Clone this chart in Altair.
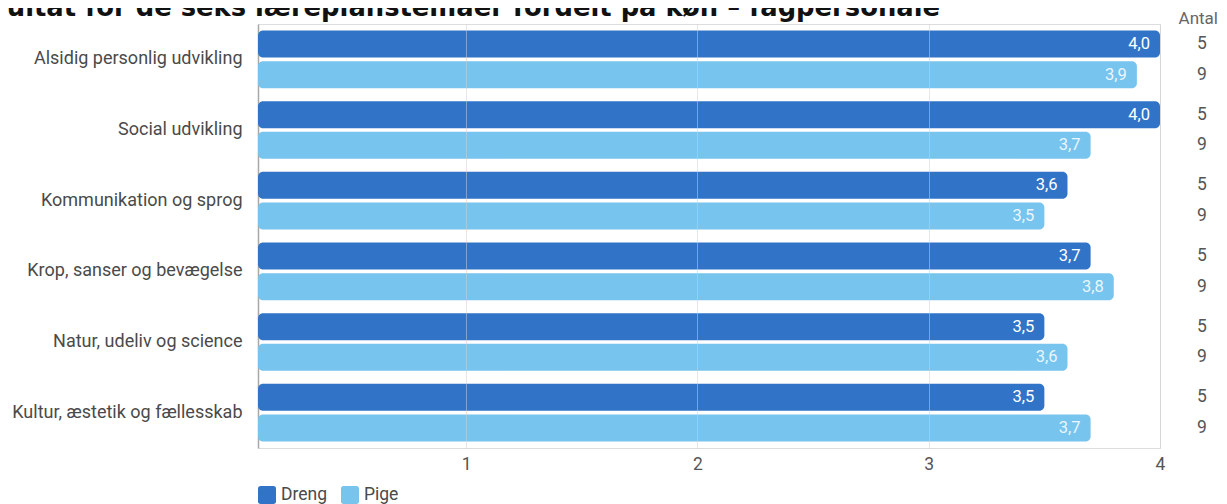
import altair as alt
import pandas as pd

# ---- data ----
title_text = ["Resultat for de seks læreplanstemaer fordelt på køn – fagpersonale"]
antal_header = ["Antal"]
categories = [
    "Alsidig personlig udvikling",
    "Social udvikling",
    "Kommunikation og sprog",
    "Krop, sanser og bevægelse",
    "Natur, udeliv og science",
    "Kultur, æstetik og fællesskab",
]
genders = ["Dreng", "Pige"]
dreng_values = [4.0, 4.0, 3.6, 3.7, 3.5, 3.5]
pige_values = [3.9, 3.7, 3.5, 3.8, 3.6, 3.7]
dreng_antal = [5, 5, 5, 5, 5, 5]
pige_antal = [9, 9, 9, 9, 9, 9]
x_ticks = [1, 2, 3, 4]

rows = []
for i, c in enumerate(categories):
    rows.append({"kategori": c, "kon": "Dreng", "vaerdi": dreng_values[i], "antal": dreng_antal[i]})
    rows.append({"kategori": c, "kon": "Pige", "vaerdi": pige_values[i], "antal": pige_antal[i]})
df = pd.DataFrame(rows)

DARK = "#3174c7"
LIGHT = "#77c4ee"
FONT = "Roboto"
FS = 17.5
W, H = 902, 424

rounded_square = ("M-0.7,-1 L0.7,-1 Q1,-1 1,-0.7 L1,0.7 Q1,1 0.7,1 L-0.7,1 "
                  "Q-1,1 -1,0.7 L-1,-0.7 Q-1,-1 -0.7,-1 Z")

base = alt.Chart(df).transform_calculate(
    label="replace(format(datum.vaerdi, '.1f'), '.', ',')"
).encode(
    y=alt.Y(
        "kategori:N",
        sort=categories,
        scale=alt.Scale(paddingInner=0.184, paddingOuter=0.092),
        axis=alt.Axis(
            title=None, ticks=False, labelFontSize=18, labelColor="#4a4a4a",
            labelPadding=16, labelFont=FONT, domainColor="#a8a8a8", domainWidth=1.5,
            labelLimit=400,
        ),
    ),
    yOffset=alt.YOffset("kon:N", sort=genders, scale=alt.Scale(paddingInner=0.12, paddingOuter=0)),
)

bars = base.mark_bar(cornerRadiusEnd=5).encode(
    x=alt.X(
        "vaerdi:Q",
        scale=alt.Scale(domain=[0.1, 4], zero=False, nice=False),
        axis=alt.Axis(
            values=x_ticks, title=None, grid=True, gridColor="#cfcfcf", gridOpacity=0.5,
            domain=False, ticks=False, labelFontSize=FS, labelColor="#555555",
            labelPadding=7, labelFont=FONT, zindex=1, format="d", labelFlush=False,
        ),
    ),
    x2=alt.datum(0.1),
    color=alt.Color(
        "kon:N",
        sort=genders,
        scale=alt.Scale(domain=genders, range=[DARK, LIGHT]),
        legend=alt.Legend(
            title=None, orient="none", legendX=0, legendY=462, direction="horizontal",
            symbolType=rounded_square, symbolSize=324, symbolStrokeWidth=0,
            labelFontSize=FS, labelColor="#4a4a4a", labelFont=FONT, labelOffset=5,
            columnPadding=13, padding=0,
        ),
    ),
)

value_labels = base.mark_text(align="right", dx=-10, fontSize=16.5, font=FONT, baseline="middle").encode(
    x=alt.X("vaerdi:Q"),
    text="label:N",
    color=alt.value("#ffffff"),
    opacity=alt.condition(alt.datum.kon == "Pige", alt.value(0.85), alt.value(1.0)),
)

antal_labels = base.mark_text(align="center", fontSize=FS, font=FONT, color="#555555", baseline="middle").encode(
    x=alt.value(944),
    text="antal:Q",
)

antal_title = alt.Chart(pd.DataFrame({"t": antal_header})).mark_text(
    align="right", baseline="middle", fontSize=17, font=FONT, color="#666666"
).encode(x=alt.value(960), y=alt.value(-5), text="t:N")

title = alt.Chart(pd.DataFrame({"t": title_text})).mark_text(
    align="right", baseline="alphabetic", fontSize=25.8, font="DejaVu Sans", fontWeight="bold", color="#111111"
).encode(x=alt.value(682), y=alt.value(-8), text="t:N")

chart = alt.layer(bars, value_labels, antal_labels, antal_title, title).properties(
    width=W, height=H,
    autosize=alt.AutoSizeParams(type="none"),
    padding={"left": 250, "top": 16, "right": 59, "bottom": 56},
).configure_view(stroke=None).configure(font=FONT)

chart.save("out.html", embed_options={"renderer": "svg", "actions": False})
